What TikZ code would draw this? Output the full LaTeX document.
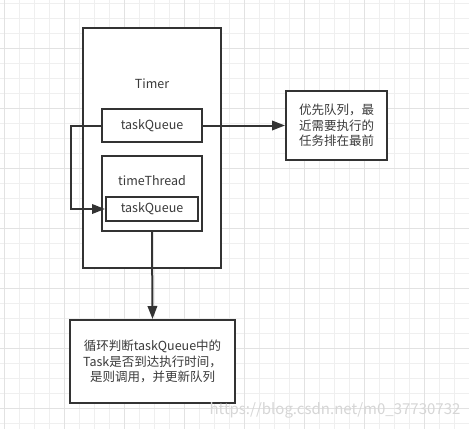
\documentclass[tikz,border=0pt]{standalone}
\usepackage{fontspec}
\setmainfont{Noto Sans CJK SC}
\usetikzlibrary{arrows.meta}
\definecolor{minorgrid}{HTML}{EFEFEF}
\definecolor{majorgrid}{HTML}{E2E2E2}
\definecolor{ink}{HTML}{333333}
\definecolor{txt}{HTML}{3A3A3A}
\definecolor{wm}{HTML}{D6D6D6}
\tikzset{
  box/.style={draw=ink, line width=2pt, rectangle, fill=white, inner sep=0pt, text=txt, font=\fontsize{12.5}{15.5}\selectfont, align=center},
  lbl/.style={text=txt, font=\fontsize{12.5}{15.5}\selectfont, inner sep=0pt},
  conn/.style={draw=ink, line width=2pt},
  arr/.style={conn, -{Triangle[length=13pt,width=9.5pt]}},
}
\begin{document}
\begin{tikzpicture}[x=1pt,y=-1pt]
\useasboundingbox (0,0) rectangle (469,429);
\fill[white] (0,0) rectangle (469,429);
\foreach \i in {0,...,31} \draw[minorgrid, line width=1pt] (4+15*\i,0) -- (4+15*\i,429);
\foreach \j in {0,...,28} \draw[minorgrid, line width=1pt] (0,3+15*\j) -- (469,3+15*\j);
\foreach \i in {0,...,7} \draw[majorgrid, line width=1pt] (4+60*\i,0) -- (4+60*\i,429);
\foreach \j in {0,...,6} \draw[majorgrid, line width=1pt] (0,48+60*\j) -- (469,48+60*\j);

\node[box, minimum width=138pt, minimum height=240pt] (timer) at (152,148) {};
\node[lbl] (timerlbl) at (152,84) {Timer};
\node[box, minimum width=100pt, minimum height=33pt] (tq1) at (152,125.5) {taskQueue};
\node[box, minimum width=100pt, minimum height=75pt] (tt) at (152,193.5) {};
\node[lbl] (ttlbl) at (152,181) {timeThread};
\node[box, minimum width=92pt, minimum height=24pt] (tq2) at (152,209) {taskQueue};
\node[box, minimum width=101pt, minimum height=69pt] (rb) at (336.5,125.5) {优先队列，最\\近需要执行的\\任务排在最前};
\node[box, minimum width=165pt, minimum height=83pt] (bb) at (152.5,361.5) {循环判断taskQueue中的\\Task是否到达执行时间，\\是则调用，并更新队列};

\draw[arr] (tq1.west) -- ++(-30,0) |- (tq2.west);
\draw[arr] (tq1.east) -- (rb.west);
\draw[arr] (tt.south) -- (bb.north);

\node[text=wm, font=\fontsize{15}{15}\selectfont, inner sep=0pt] (wmark) at (335,410) {https://blog.csdn.net/m0\_37730732};
\end{tikzpicture}
\end{document}
